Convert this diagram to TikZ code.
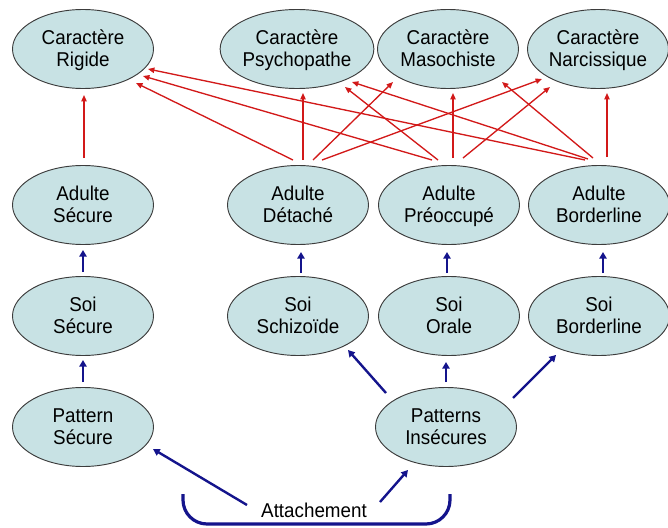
\documentclass[tikz,border=0pt]{standalone}
\usepackage{fontspec}
\setmainfont{Liberation Sans}[FakeStretch=0.94]
\usetikzlibrary{shapes.geometric,arrows.meta,calc}
\definecolor{cellfill}{RGB}{200,226,228}
\definecolor{cellline}{RGB}{60,60,60}
\definecolor{redline}{RGB}{210,25,25}
\definecolor{blueline}{RGB}{20,20,140}
\newcommand\twol[2]{\rule{0pt}{15pt}#1\\#2\strut}
\begin{document}
\begin{tikzpicture}[x=0.75pt,y=-0.75pt,
  cell/.style={ellipse,draw=cellline,line width=0.7pt,fill=cellfill,minimum width=105.75pt,minimum height=59.25pt,inner sep=0pt,align=center,font=\fontsize{15}{16.5}\selectfont},
  redarrow/.style={draw=redline,line width=1pt,-{Triangle[length=4.8pt,width=4pt]}},
  bluearrow/.style={draw=blueline,line width=1.8pt,-{Triangle[length=5pt,width=5.5pt]}},
  brace/.style={draw=blueline,line width=2.4pt,rounded corners=18},
  lbl/.style={font=\fontsize{15}{16.5}\selectfont,inner sep=1pt}]
\useasboundingbox (0,0) rectangle (668,528);
% nodes
\node[cell] (rig) at (83,49) {\twol{Caractère}{Rigide}};
\node[cell] (psy) at (297,49) {\twol{Caractère}{Psychopathe}};
\node[cell] (maso) at (448,49) {\twol{Caractère}{Masochiste}};
\node[cell] (narc) at (598,49) {\twol{Caractère}{Narcissique}};
\node[cell] (asec) at (83,205) {\twol{Adulte}{Sécure}};
\node[cell] (adet) at (298,205) {\twol{Adulte}{Détaché}};
\node[cell] (apre) at (449,205) {\twol{Adulte}{Préoccupé}};
\node[cell] (abor) at (599,205) {\twol{Adulte}{Borderline}};
\node[cell] (ssec) at (83,316) {\twol{Soi}{Sécure}};
\node[cell] (ssch) at (298,316) {\twol{Soi}{Schizoïde}};
\node[cell] (sora) at (449,316) {\twol{Soi}{Orale}};
\node[cell] (sbor) at (599,316) {\twol{Soi}{Borderline}};
\node[cell] (psec) at (83,427) {\twol{Pattern}{Sécure}};
\node[cell] (pins) at (446,427) {\twol{Patterns}{Insécures}};
\node[lbl] (att) at (314,510) {Attachement};
% red arrows
\draw[redarrow] ($(asec)+(1,-47)$) -- ($(rig)+(1,46)$);
\draw[redarrow] ($(adet)+(-5,-45)$) -- ($(rig)+(53,34)$);
\draw[redarrow] ($(adet)+(5,-45)$) -- ($(psy)+(6,44)$);
\draw[redarrow] ($(adet)+(15,-45)$) -- ($(maso)+(-55,33)$);
\draw[redarrow] ($(adet)+(24,-45)$) -- ($(narc)+(-56,30)$);
\draw[redarrow] ($(apre)+(-17,-45)$) -- ($(rig)+(60,27)$);
\draw[redarrow] ($(apre)+(-11,-45)$) -- ($(psy)+(48,38)$);
\draw[redarrow] ($(apre)+(4,-47)$) -- ($(maso)+(5,44)$);
\draw[redarrow] ($(apre)+(14,-47)$) -- ($(narc)+(-48,38)$);
\draw[redarrow] ($(abor)+(-14,-45)$) -- ($(rig)+(65,20)$);
\draw[redarrow] ($(abor)+(-11,-46)$) -- ($(psy)+(55,33)$);
\draw[redarrow] ($(abor)+(-6,-47)$) -- ($(maso)+(54,33)$);
\draw[redarrow] ($(abor)+(8,-48)$) -- ($(narc)+(9,44)$);
% blue arrows
\draw[bluearrow] ($(ssec)+(0,-44)$) -- ($(asec)+(0,45)$);
\draw[bluearrow] ($(psec)+(0,-45)$) -- ($(ssec)+(0,44)$);
\draw[bluearrow] ($(ssch)+(3,-43)$) -- ($(adet)+(3,47)$);
\draw[bluearrow] ($(sora)+(-2,-43)$) -- ($(apre)+(-2,47)$);
\draw[bluearrow] ($(sbor)+(4,-43)$) -- ($(abor)+(4,47)$);
\draw[bluearrow] ($(pins)+(-60,-34)$) -- ($(ssch)+(50,34)$);
\draw[bluearrow] ($(pins)+(0,-45)$) -- ($(sora)+(-3,46)$);
\draw[bluearrow] ($(pins)+(67,-29)$) -- ($(sbor)+(-43,39)$);
\draw[bluearrow] ($(att)+(-67,-5)$) -- ($(psec)+(70,22)$);
\draw[bluearrow] ($(att)+(66,-8)$) -- ($(pins)+(-38,43)$);
% brace under Attachement
\draw[brace] ($(att)+(-131,-16)$) -- ($(att)+(-131,14)$) -- ($(att)+(136,14)$) -- ($(att)+(136,-16)$);
\end{tikzpicture}
\end{document}
